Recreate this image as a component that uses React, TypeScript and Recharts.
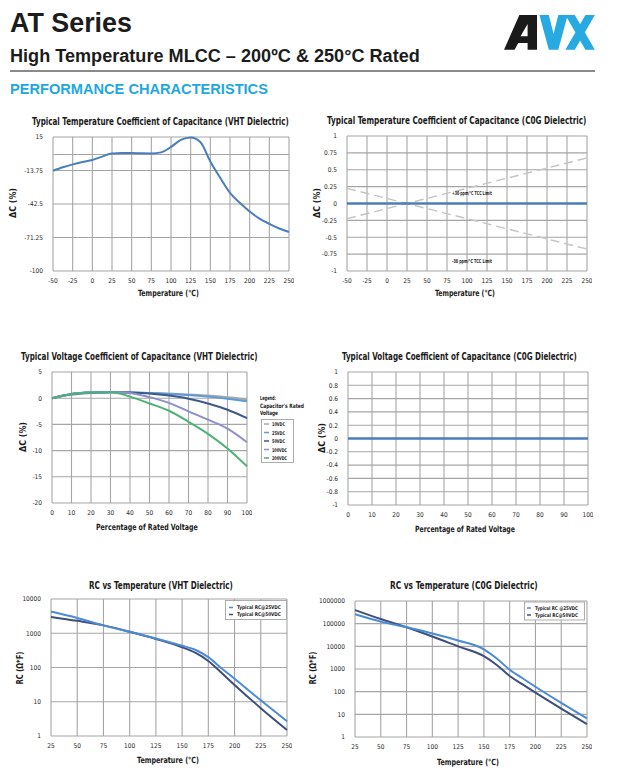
import React, { useLayoutEffect, useRef, useState } from 'react';
import { LineChart, Line, XAxis, YAxis, CartesianGrid, ReferenceLine } from 'recharts';

// ---------- DATA ----------
// Chart 1: Typical TCC (VHT)
const tccVhtTemps = [-50, -37.5, -25, -12.5, 0, 12.5, 25, 37.5, 50, 62.5, 75, 87.5, 100, 112.5, 125, 137.5, 150, 162.5, 175, 187.5, 200, 212.5, 225, 237.5, 250];
const tccVhtValues = [-14, -11, -8.5, -6.5, -4.7, -1.8, 0.9, 1.2, 1.2, 1.0, 0.9, 1.8, 6.5, 12.5, 14.6, 10.5, -6, -20, -33, -41.5, -49, -55, -59.5, -63.5, -66.5];
const tccVhtYTicks = [15, -13.75, -42.5, -71.25, -100];
const tempTicksWide = [-50, -25, 0, 25, 50, 75, 100, 125, 150, 175, 200, 225, 250];

// Chart 2: Typical TCC (C0G)
const tccC0gTemps = [-50, 250];
const tccC0gValues = [0, 0];
const tccPlus30Limit = [-0.225, 0.675];
const tccMinus30Limit = [0.225, -0.675];
const tccC0gYTicks = [1, 0.75, 0.5, 0.25, 0, -0.25, -0.5, -0.75, -1];

// Chart 3: Typical VCC (VHT)
const vccPercent = [0, 10, 20, 30, 40, 50, 60, 70, 80, 90, 100];
const vcc10VDC = [0, 0.7, 1.0, 1.1, 1.1, 1.0, 0.9, 0.7, 0.5, 0.2, -0.2];
const vcc25VDC = [0, 0.7, 1.0, 1.1, 1.1, 1.0, 0.8, 0.6, 0.3, -0.1, -0.6];
const vcc50VDC = [0, 0.8, 1.1, 1.2, 1.1, 0.9, 0.5, -0.1, -1.0, -2.2, -3.8];
const vcc100VDC = [0, 0.8, 1.1, 1.2, 1.0, 0.2, -0.9, -2.5, -4.1, -5.8, -8.4];
const vcc200VDC = [0, 0.8, 1.1, 1.2, 0.3, -1.0, -2.4, -4.5, -6.8, -9.6, -13.0];
const vccVhtYTicks = [5, 0, -5, -10, -15, -20];
const percentTicks = [0, 10, 20, 30, 40, 50, 60, 70, 80, 90, 100];
const vccLegendNames = ['10VDC', '25VDC', '50VDC', '100VDC', '200VDC'];

// Chart 4: Typical VCC (C0G)
const vccC0gPercent = [0, 100];
const vccC0gValues = [0, 0];
const vccC0gYTicks = [1, 0.8, 0.6, 0.4, 0.2, 0, -0.2, -0.4, -0.6, -0.8, -1];

// Chart 5: RC vs Temperature (VHT)
const rcTemps = [25, 50, 75, 100, 125, 150, 162.5, 175, 187.5, 200, 225, 250];
const rcVhtA = [4300, 2800, 1700, 1100, 700, 430, 330, 200, 95, 47, 11, 2.7];
const rcVhtB = [3000, 2300, 1700, 1100, 680, 390, 270, 155, 70, 31, 6.5, 1.5];
const rcVhtYTicks = [1, 10, 100, 1000, 10000];
const rcVhtLegend = ['Typical RC@25VDC', 'Typical RC@50VDC'];

// Chart 6: RC vs Temperature (C0G)
const rcC0gA = [260000, 123000, 69000, 37000, 18000, 7400, 2900, 930, 390, 165, 32, 6.6];
const rcC0gB = [400000, 160000, 69000, 27000, 10000, 3700, 1500, 490, 210, 91, 18, 3.7];
const rcC0gYTicks = [1, 10, 100, 1000, 10000, 100000, 1000000];
const rcC0gLegend = ['Typical RC @25VDC', 'Typical RC@50VDC'];
const rcTempTicks = [25, 50, 75, 100, 125, 150, 175, 200, 225, 250];

// ---------- tables built from arrays ----------
const d1 = tccVhtTemps.map((t, i) => ({ t, v: tccVhtValues[i] }));
const d2 = tccC0gTemps.map((t, i) => ({ t, v: tccC0gValues[i], p: tccPlus30Limit[i], m: tccMinus30Limit[i] }));
const d3 = vccPercent.map((t, i) => ({ t, a: vcc10VDC[i], b: vcc25VDC[i], c: vcc50VDC[i], d: vcc100VDC[i], e: vcc200VDC[i] }));
const d4 = vccC0gPercent.map((t, i) => ({ t, v: vccC0gValues[i] }));
const d5 = rcTemps.map((t, i) => ({ t, a: rcVhtA[i], b: rcVhtB[i] }));
const d6 = rcTemps.map((t, i) => ({ t, a: rcC0gA[i], b: rcC0gB[i] }));

// ---------- styles ----------
const FONT = '"Liberation Sans Narrow", "DejaVu Sans Condensed", "Liberation Sans", Arial, sans-serif';
const SANS = '"Liberation Sans", Arial, sans-serif';
const GRID = '#a6a6a6';
const BLUE = '#4a7ebb';
const LIGHTBLUE = '#4b8bd6';
const NAVY = '#3d4f7c';
const VCC_COLORS = ['#a8a8a8', '#5b9bd5', '#3b5a8c', '#8d8fca', '#4cb27a'];
const tickStyle = { fontSize: 6.5, fill: '#2a2a2a', fontFamily: FONT };

type Box = { l: number; t: number; r: number; b: number };
function geo(box: Box, yw: number) {
  const mt = 5, mr = 5, xh = 20;
  const left = box.l - yw;
  const top = box.t - mt;
  return {
    style: { position: 'absolute' as const, left, top },
    width: box.r - left + mr,
    height: box.b - top + xh,
    margin: { top: mt, right: mr, left: 0, bottom: 0 },
    yw,
  };
}

// Text fitted to a target width by measuring its natural length and scaling horizontally.
function Txt(props: { x: number; y: number; w: number; size: number; bold?: boolean; color?: string; anchor?: string; rotate?: boolean; children: React.ReactNode; family?: string }) {
  const { x, y, w, size, bold, color, anchor, rotate, children, family } = props;
  const ref = useRef<SVGTextElement>(null);
  const [sx, setSx] = useState(1);
  useLayoutEffect(() => {
    if (ref.current) {
      const n = ref.current.getComputedTextLength();
      if (n > 0) setSx(w / n);
    }
  }, [w, children]);
  const tf = rotate
    ? `translate(${x},${y}) rotate(-90) scale(${sx},1)`
    : `translate(${x},${y}) scale(${sx},1)`;
  return (
    <g transform={tf}>
      <text ref={ref} x={0} y={rotate ? size * 0.35 : 0} fontSize={size} fontWeight={bold ? 'bold' : 'normal'}
        fill={color || '#1a1a1a'} fontFamily={family || FONT} textAnchor={anchor || (rotate ? 'middle' : 'start')}>{children}</text>
    </g>
  );
}

const xAxisProps = { axisLine: false, tickLine: false, tickSize: 6, tickMargin: 1, height: 20, interval: 0 as const, tick: tickStyle };
const yAxisProps = { axisLine: false, tickLine: false, tickSize: 6, tickMargin: 4, interval: 0 as const, tick: tickStyle };

export default function App() {
  const g1 = geo({ l: 53, t: 137, r: 289, b: 271 }, 45);
  const g2 = geo({ l: 347, t: 136, r: 587, b: 271 }, 40);
  const g3 = geo({ l: 52, t: 372, r: 247, b: 503 }, 40);
  const g4 = geo({ l: 348, t: 372, r: 588, b: 505 }, 40);
  const g5 = geo({ l: 51, t: 599, r: 287, b: 736 }, 40);
  const g6 = geo({ l: 355, t: 601, r: 587, b: 737 }, 40);

  return (
    <div style={{ position: 'absolute', left: 0, top: 0, width: 619, height: 783, background: '#fff', overflow: 'hidden' }}>
      {/* Chart 1 */}
      <div style={g1.style}>
        <LineChart width={g1.width} height={g1.height} data={d1} margin={g1.margin}>
          <CartesianGrid stroke={GRID} strokeWidth={1.1} />
          <XAxis dataKey="t" type="number" domain={[-50, 250]} ticks={tempTicksWide} {...xAxisProps} />
          <YAxis type="number" domain={[-100, 15]} ticks={tccVhtYTicks} width={g1.yw} {...yAxisProps} />
          <ReferenceLine y={0} stroke={GRID} strokeWidth={1.1} />
          <Line dataKey="v" type="monotone" stroke={BLUE} strokeWidth={2} dot={false} isAnimationActive={false} />
        </LineChart>
      </div>

      {/* Chart 2 */}
      <div style={g2.style}>
        <LineChart width={g2.width} height={g2.height} data={d2} margin={g2.margin}>
          <CartesianGrid stroke={GRID} strokeWidth={1.1} />
          <XAxis dataKey="t" type="number" domain={[-50, 250]} ticks={tempTicksWide} {...xAxisProps} />
          <YAxis type="number" domain={[-1, 1]} ticks={tccC0gYTicks} width={g2.yw} {...yAxisProps} />
          <Line dataKey="p" type="linear" stroke="#c4c4c4" strokeWidth={1.4} strokeDasharray="9 5" dot={false} isAnimationActive={false} />
          <Line dataKey="m" type="linear" stroke="#c4c4c4" strokeWidth={1.4} strokeDasharray="9 5" dot={false} isAnimationActive={false} />
          <Line dataKey="v" type="linear" stroke={BLUE} strokeWidth={2.5} dot={false} isAnimationActive={false} />
        </LineChart>
      </div>

      {/* Chart 3 */}
      <div style={g3.style}>
        <LineChart width={g3.width} height={g3.height} data={d3} margin={g3.margin}>
          <CartesianGrid stroke={GRID} strokeWidth={1.1} />
          <XAxis dataKey="t" type="number" domain={[0, 100]} ticks={percentTicks} {...xAxisProps} />
          <YAxis type="number" domain={[-20, 5]} ticks={vccVhtYTicks} width={g3.yw} {...yAxisProps} />
          {['a', 'b', 'c', 'd', 'e'].map((k, i) => (
            <Line key={k} dataKey={k} name={vccLegendNames[i]} type="monotone" stroke={VCC_COLORS[i]} strokeWidth={2} dot={false} isAnimationActive={false} />
          ))}
        </LineChart>
      </div>

      {/* Chart 4 */}
      <div style={g4.style}>
        <LineChart width={g4.width} height={g4.height} data={d4} margin={g4.margin}>
          <CartesianGrid stroke={GRID} strokeWidth={1.1} />
          <XAxis dataKey="t" type="number" domain={[0, 100]} ticks={percentTicks} {...xAxisProps} />
          <YAxis type="number" domain={[-1, 1]} ticks={vccC0gYTicks} width={g4.yw} {...yAxisProps} />
          <Line dataKey="v" type="linear" stroke={BLUE} strokeWidth={2.5} dot={false} isAnimationActive={false} />
        </LineChart>
      </div>

      {/* Chart 5 */}
      <div style={g5.style}>
        <LineChart width={g5.width} height={g5.height} data={d5} margin={g5.margin}>
          <CartesianGrid stroke={GRID} strokeWidth={1.1} />
          <XAxis dataKey="t" type="number" domain={[25, 250]} ticks={rcTempTicks} {...xAxisProps} />
          <YAxis type="number" scale="log" domain={[1, 10000]} allowDataOverflow ticks={rcVhtYTicks} width={g5.yw} {...yAxisProps} />
          <Line dataKey="b" name={rcVhtLegend[1]} type="monotone" stroke={NAVY} strokeWidth={2} dot={false} isAnimationActive={false} />
          <Line dataKey="a" name={rcVhtLegend[0]} type="monotone" stroke={LIGHTBLUE} strokeWidth={2} dot={false} isAnimationActive={false} />
        </LineChart>
      </div>

      {/* Chart 6 */}
      <div style={g6.style}>
        <LineChart width={g6.width} height={g6.height} data={d6} margin={g6.margin}>
          <CartesianGrid stroke={GRID} strokeWidth={1.1} />
          <XAxis dataKey="t" type="number" domain={[25, 250]} ticks={rcTempTicks} {...xAxisProps} />
          <YAxis type="number" scale="log" domain={[1, 1000000]} allowDataOverflow ticks={rcC0gYTicks} width={g6.yw} {...yAxisProps} />
          <Line dataKey="b" name={rcC0gLegend[1]} type="monotone" stroke={NAVY} strokeWidth={2} dot={false} isAnimationActive={false} />
          <Line dataKey="a" name={rcC0gLegend[0]} type="monotone" stroke={LIGHTBLUE} strokeWidth={2} dot={false} isAnimationActive={false} />
        </LineChart>
      </div>

      {/* Text overlay */}
      <svg width={619} height={783} style={{ position: 'absolute', left: 0, top: 0, pointerEvents: 'none' }}>
        {/* header */}
        <Txt x={10} y={32} w={122} size={27} bold family={SANS} color="#1c1c1c">AT Series</Txt>
        <Txt x={10} y={62} w={410} size={18.5} bold family={SANS} color="#1c1c1c">High Temperature MLCC – 200ºC &amp; 250°C Rated</Txt>
        <rect x={10} y={70} width={585} height={2} fill="#8a8a8a" />
        <Txt x={10} y={94} w={258} size={15} bold family={SANS} color="#1fa8e0">PERFORMANCE CHARACTERISTICS</Txt>
        {/* logo */}
        <g transform="translate(504,15) scale(1.18,1.12)">
          <path d="M0,31 L13,0 L28,0 L28,31 L20,31 L20,25 L12,25 L9,31 Z M14,19 L20,8 L20,19 Z" fill="#1a1a1a" fillRule="evenodd" />
          <path d="M30,0 L38,0 L42,17 L46,0 L54,0 L46,31 L38,31 Z" fill="#27aae1" />
          <path d="M52,0 L60,0 L77,31 L69,31 Z M69,0 L77,0 L60,31 L52,31 Z" fill="#27aae1" />
        </g>

        {/* chart titles */}
        <Txt x={32} y={124.5} w={257} size={10} bold>Typical Temperature Coefficient of Capacitance (VHT Dielectric)</Txt>
        <Txt x={327} y={124} w={260} size={10} bold>Typical Temperature Coefficient of Capacitance (C0G Dielectric)</Txt>
        <Txt x={21} y={359.5} w={237} size={10} bold>Typical Voltage Coefficient of Capacitance (VHT Dielectric)</Txt>
        <Txt x={342} y={359.5} w={235} size={10} bold>Typical Voltage Coefficient of Capacitance (C0G Dielectric)</Txt>
        <Txt x={89} y={589} w={144} size={10.5} bold>RC vs Temperature (VHT Dielectric)</Txt>
        <Txt x={390} y={589} w={148} size={10.5} bold>RC vs Temperature (C0G Dielectric)</Txt>

        {/* x labels */}
        <Txt x={138} y={296} w={61} size={8.5} bold>Temperature (°C)</Txt>
        <Txt x={435} y={296} w={60} size={8.5} bold>Temperature (°C)</Txt>
        <Txt x={96} y={530} w={102} size={8.5} bold>Percentage of Rated Voltage</Txt>
        <Txt x={415} y={532} w={100} size={8.5} bold>Percentage of Rated Voltage</Txt>
        <Txt x={137} y={763} w={62} size={8.5} bold>Temperature (°C)</Txt>
        <Txt x={437} y={765} w={62} size={8.5} bold>Temperature (°C)</Txt>

        {/* y labels */}
        <Txt rotate x={13} y={203} w={30} size={8.5} bold>ΔC (%)</Txt>
        <Txt rotate x={317} y={203} w={30} size={8.5} bold>ΔC (%)</Txt>
        <Txt rotate x={23} y={437} w={30} size={8.5} bold>ΔC (%)</Txt>
        <Txt rotate x={322} y={438} w={30} size={8.5} bold>ΔC (%)</Txt>
        <Txt rotate x={20} y={668} w={33} size={8.5} bold>RC (Ω*F)</Txt>
        <Txt rotate x={313} y={668} w={33} size={8.5} bold>RC (Ω*F)</Txt>

        {/* C0G TCC limit labels */}
        <Txt x={452} y={195} w={40} size={5.5} bold>+30 ppm/°C TCC Limit</Txt>
        <Txt x={452} y={263} w={40} size={5.5} bold>-30 ppm/°C TCC Limit</Txt>

        {/* VCC VHT legend */}
        <Txt x={260} y={400} w={16} size={6} bold>Legend:</Txt>
        <Txt x={260} y={407.5} w={44} size={6} bold>Capacitor's Rated</Txt>
        <Txt x={260} y={415} w={18} size={6} bold>Voltage</Txt>
        <rect x={261.5} y={419.5} width={32} height={43} fill="#fff" stroke="#9a9a9a" strokeWidth={0.8} />
        {vccLegendNames.map((n, i) => (
          <g key={n}>
            <line x1={264} x2={269} y1={424 + i * 8.5} y2={424 + i * 8.5} stroke={VCC_COLORS[i]} strokeWidth={1.5} />
            <Txt x={272} y={426 + i * 8.5} w={n.length > 5 ? 15 : 13} size={5} bold>{n}</Txt>
          </g>
        ))}

        {/* RC legends */}
        <rect x={225.5} y={600.5} width={61} height={19} fill="#fff" stroke="#9a9a9a" strokeWidth={0.8} />
        <line x1={229} x2={233} y1={607.5} y2={607.5} stroke={LIGHTBLUE} strokeWidth={1.5} />
        <line x1={229} x2={233} y1={614.5} y2={614.5} stroke={NAVY} strokeWidth={1.5} />
        <Txt x={237} y={609.3} w={44} size={5} bold>{rcVhtLegend[0]}</Txt>
        <Txt x={237} y={616.3} w={44} size={5} bold>{rcVhtLegend[1]}</Txt>

        <rect x={524.5} y={602} width={60} height={18} fill="#fff" stroke="#9a9a9a" strokeWidth={0.8} />
        <line x1={527} x2={531} y1={608} y2={608} stroke={LIGHTBLUE} strokeWidth={1.5} />
        <line x1={527} x2={531} y1={615} y2={615} stroke={NAVY} strokeWidth={1.5} />
        <Txt x={535} y={609.8} w={43} size={5} bold>{rcC0gLegend[0]}</Txt>
        <Txt x={535} y={616.8} w={43} size={5} bold>{rcC0gLegend[1]}</Txt>
      </svg>
    </div>
  );
}
